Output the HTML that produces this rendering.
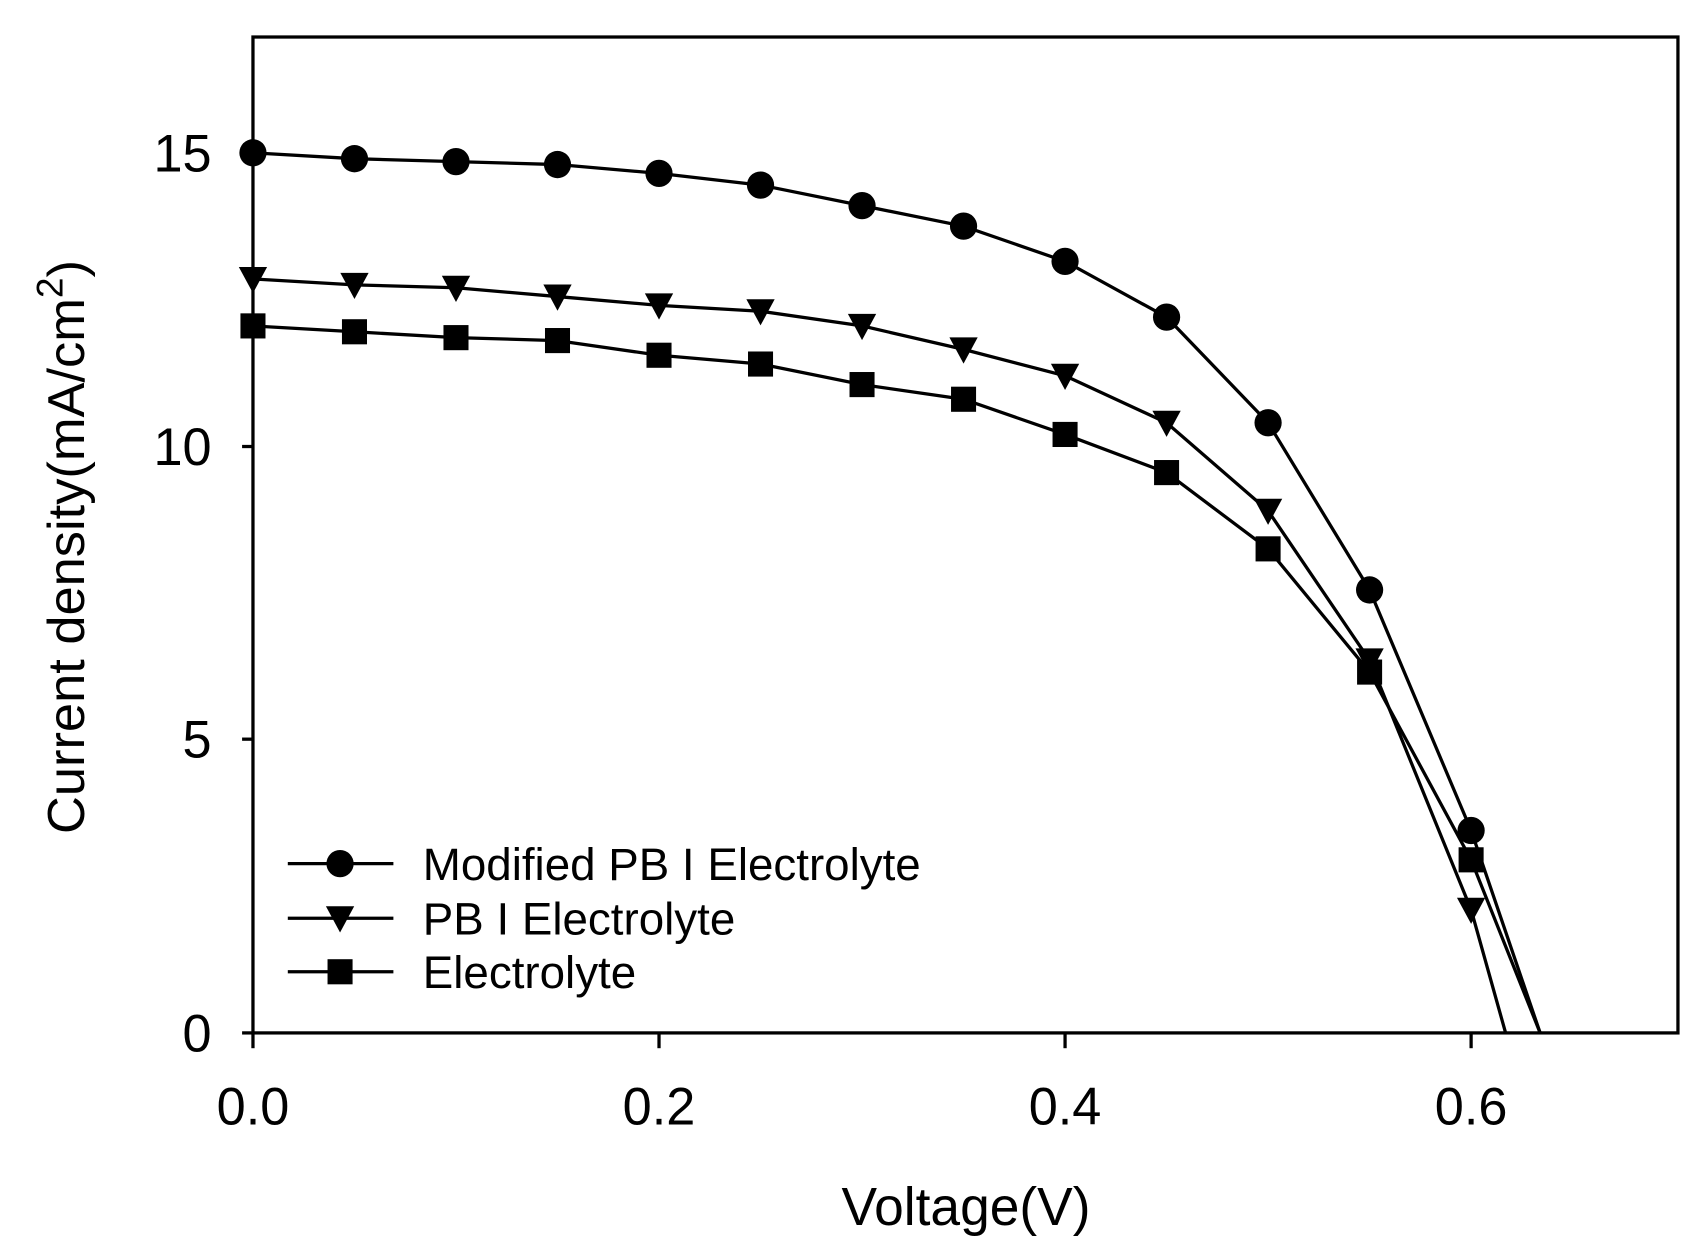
<!DOCTYPE html>
<html><head><meta charset="utf-8"><style>
html,body{margin:0;padding:0;background:#fff;}
svg{display:block;}
text{font-family:"Liberation Sans",Arial,sans-serif;fill:#000;}
</style></head><body>
<svg width="1707" height="1251" viewBox="0 0 1707 1251" xmlns="http://www.w3.org/2000/svg">
<g transform="translate(1.5,-2.3) scale(1.0886,1.092)">
<rect x="231" y="36" width="1309" height="912" fill="none" stroke="#000" stroke-width="3"/>
<g stroke="#000" stroke-width="3">
<line x1="231" y1="948" x2="231" y2="962"/><line x1="604" y1="948" x2="604" y2="962"/>
<line x1="977" y1="948" x2="977" y2="962"/><line x1="1350" y1="948" x2="1350" y2="962"/>
<line x1="221" y1="948" x2="231" y2="948"/><line x1="221" y1="679" x2="231" y2="679"/>
<line x1="221" y1="411" x2="231" y2="411"/><line x1="221" y1="142" x2="231" y2="142"/>
</g>
<g font-size="48" text-anchor="end">
<text x="193" y="965">0</text><text x="193" y="696">5</text>
<text x="193" y="428">10</text><text x="193" y="159">15</text>
</g>
<g font-size="48" text-anchor="middle">
<text x="231" y="1032">0.0</text><text x="604" y="1032">0.2</text>
<text x="977" y="1032">0.4</text><text x="1350" y="1032">0.6</text>
</g>
<text x="886" y="1124" font-size="49" text-anchor="middle">Voltage(V)</text>
<text transform="translate(76,503) rotate(-90)" font-size="48" text-anchor="middle">Current density(mA/cm<tspan font-size="34" dy="-20">2</tspan><tspan dy="20">)</tspan></text>
<g id="series" fill="#000" stroke="#000" stroke-width="3"></g>
<g font-size="42">
<text x="387" y="808">Modified PB I Electrolyte</text>
<text x="387" y="858">PB I Electrolyte</text>
<text x="387" y="907">Electrolyte</text>
</g>
</g>
</svg>
<script>
var g=document.getElementById('series'),NS='http://www.w3.org/2000/svg';
function X(v){return 231+v*1865;}function Y(v){return 948-v*53.73;}
var xs=[0,.05,.1,.15,.2,.25,.3,.35,.4,.45,.5,.55,.6];
var S=[
{t:'c',d:[15.0,14.9,14.85,14.8,14.65,14.45,14.1,13.75,13.15,12.2,10.4,7.55,3.45],z:.634,ly:793},
{t:'t',d:[12.85,12.75,12.7,12.55,12.4,12.3,12.05,11.65,11.2,10.4,8.9,6.35,2.1],z:.617,ly:843},
{t:'s',d:[12.05,11.95,11.85,11.8,11.55,11.4,11.05,10.8,10.2,9.55,8.25,6.15,2.95],z:.634,ly:892}];
function el(n,a){var e=document.createElementNS(NS,n);for(var k in a)e.setAttribute(k,a[k]);g.appendChild(e);return e;}
function mk(t,x,y){
 if(t=='c')el('circle',{cx:x,cy:y,r:12.5,stroke:'none'});
 else if(t=='t')el('polygon',{points:(x-13)+','+(y-11)+' '+(x+13)+','+(y-11)+' '+x+','+(y+13),stroke:'none'});
 else el('rect',{x:x-11.5,y:y-11.5,width:23,height:23,stroke:'none'});
}
S.forEach(function(s){
 var p=xs.map(function(x,i){return X(x)+','+Y(s.d[i]);}).join(' ')+' '+X(s.z)+','+Y(0);
 el('polyline',{points:p,fill:'none'});
 xs.forEach(function(x,i){mk(s.t,X(x),Y(s.d[i]));});
 el('line',{x1:263,y1:s.ly,x2:360,y2:s.ly});
 mk(s.t,311,s.ly);
});
</script>
</body></html>
